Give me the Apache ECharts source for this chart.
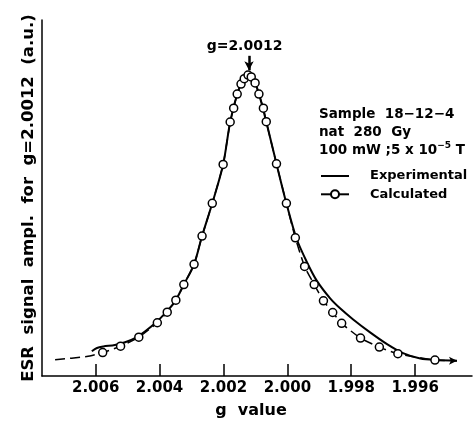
<!DOCTYPE html>
<html>
<head>
<meta charset="utf-8">
<script src="https://cdn.jsdelivr.net/npm/echarts@6/dist/echarts.min.js"></script>
<style>
html,body{margin:0;padding:0;background:#fff}
#main{width:475px;height:424px}
</style>
</head>
<body>
<div id="main"></div>
<script>
// g axis tick labels
var tickValues = [2.006, 2.004, 2.002, 2.000, 1.998, 1.996];

// experimental curve (solid)
var expG = [2.00612, 2.00596, 2.00576, 2.00540, 2.00508, 2.00477, 2.00446, 2.00414, 2.00383, 2.00352,
            2.00324, 2.00292, 2.00267, 2.00235, 2.00201, 2.00179, 2.00157, 2.00135, 2.00123, 2.00113,
            2.00101, 2.00089, 2.00066, 2.00034, 2.00003, 1.99971, 1.99939, 1.99908, 1.99866, 1.99835,
            1.99794, 1.99741, 1.99688, 1.99638, 1.99584, 1.99532, 1.99469];
var expAmp = [8.2, 9.3, 9.8, 10.3, 11.2, 12.6, 14.8, 17.5, 20.8, 24.7,
              30.4, 37.1, 46.5, 57.4, 70.3, 84.4, 93.7, 99.5, 100.4, 100.0,
              97.5, 93.8, 84.5, 70.5, 57.4, 45.6, 37.9, 31.7, 25.8, 22.5,
              18.8, 14.5, 10.6, 7.6, 5.8, 5.3, 5.1];

// calculated points (circles), first two and last are dashed tail only
var calcG = [2.00727, 2.00628,
             2.00578, 2.00522, 2.00465, 2.00407, 2.00376, 2.00349, 2.00324, 2.00292, 2.00267, 2.00235,
             2.00201, 2.00179, 2.00168, 2.00157, 2.00145, 2.00135, 2.00123, 2.00113, 2.00101, 2.00089,
             2.00075, 2.00066, 2.00034, 2.00003, 1.99975, 1.99946, 1.99916, 1.99887, 1.99858, 1.99830,
             1.99771, 1.99712, 1.99654, 1.99538,
             1.99469];
var calcAmp = [5.4, 6.5,
               7.8, 9.9, 12.9, 17.7, 21.2, 25.2, 30.4, 37.1, 46.5, 57.4,
               70.3, 84.4, 89.0, 93.7, 97.0, 98.8, 100.0, 99.4, 97.4, 93.7,
               89.0, 84.5, 70.5, 57.4, 45.9, 36.4, 30.4, 25.0, 21.1, 17.5,
               12.6, 9.6, 7.4, 5.3,
               5.1];
var calcTail = [0, 1, 36];

var peakG = 2.0012;
var peakArrow = [106.4, 101.6];
var infoText = 'Sample  18\u221212\u22124\nnat  280  Gy\n100 mW ;5 x 10{sup|\u22125} T';

var font = 'DejaVu Sans';

var expData = [];
for (var i = 0; i < expG.length; i++) {
    expData.push([expG[i], expAmp[i]]);
}
var expEnd = expData[expData.length - 1];

var calcData = [];
for (var j = 0; j < calcG.length; j++) {
    if (calcTail.indexOf(j) >= 0) {
        calcData.push({value: [calcG[j], calcAmp[j]], symbol: 'none'});
    } else {
        calcData.push([calcG[j], calcAmp[j]]);
    }
}

var myChart = echarts.init(document.getElementById('main'));
var option = {
    animation: false,
    backgroundColor: '#fff',
    textStyle: {fontFamily: font, color: '#000'},
    grid: {left: 42, right: 3, top: 20, bottom: 46},
    legend: {
        orient: 'vertical',
        left: 315,
        top: 162,
        itemWidth: 28,
        itemHeight: 10,
        itemGap: 0.3,
        textStyle: {fontFamily: font, fontSize: 13, fontWeight: 'bold', color: '#000', lineHeight: 18, padding: [0, 0, 0, 16]},
        data: [
            {name: 'Experimental', itemStyle: {color: 'rgba(0,0,0,0)', borderColor: 'rgba(0,0,0,0)', borderWidth: 0, opacity: 0}},
            {name: 'Calculated', lineStyle: {type: 'solid'}}
        ]
    },
    graphic: [{
        type: 'text',
        left: 319,
        top: 106,
        style: {
            text: infoText,
            fontFamily: font,
            fontSize: 13.5,
            fontWeight: 'bold',
            lineHeight: 17.8,
            fill: '#000',
            rich: {
                sup: {fontFamily: font, fontSize: 9, fontWeight: 'bold', verticalAlign: 'top', lineHeight: 11}
            }
        }
    }],
    xAxis: {
        type: 'value',
        inverse: true,
        min: 1.99422,
        max: 2.00768,
        name: 'g  value',
        nameLocation: 'middle',
        nameGap: 27,
        nameTextStyle: {fontFamily: font, fontSize: 16, fontWeight: 'bold', color: '#000', padding: [0, 12, 0, 0]},
        axisLine: {lineStyle: {color: '#000', width: 1.5}},
        axisTick: {inside: true, length: 12, customValues: tickValues, lineStyle: {color: '#000', width: 1.5}},
        axisLabel: {
            customValues: tickValues,
            margin: 5,
            fontFamily: font, fontSize: 15, fontWeight: 'bold', color: '#000',
            formatter: function (v) { return v.toFixed(3); }
        },
        splitLine: {show: false}
    },
    yAxis: {
        type: 'value',
        min: 0,
        max: 118.3,
        name: 'ESR  signal  ampl.  for  g=2.0012  (a.u.)',
        nameLocation: 'middle',
        nameGap: 5,
        nameTextStyle: {fontFamily: font, fontSize: 16.5, fontWeight: 'bold', color: '#000'},
        axisLine: {show: true, lineStyle: {color: '#000', width: 1.5}},
        axisTick: {show: false},
        axisLabel: {show: false},
        splitLine: {show: false}
    },
    series: [{
        name: 'Experimental',
        type: 'line',
        data: expData,
        symbol: 'none',
        smooth: 0.3,
        z: 3,
        lineStyle: {color: '#000', width: 2},
        itemStyle: {color: '#000'},
        markPoint: {
            silent: true,
            symbol: 'arrow',
            symbolSize: [6, 8],
            symbolRotate: -90,
            itemStyle: {color: '#000'},
            label: {show: false},
            data: [{coord: expEnd}]
        },
        markLine: {
            silent: true,
            symbol: ['none', 'arrow'],
            symbolSize: [7, 9],
            lineStyle: {color: '#000', width: 2.5, type: 'solid'},
            label: {
                show: true, position: 'start', distance: 2,
                formatter: 'g=2.0012',
                padding: [0, 9, 0, 0],
                fontFamily: font, fontSize: 14, fontWeight: 'bold', color: '#000'
            },
            data: [[{coord: [peakG, peakArrow[0]]}, {coord: [peakG, peakArrow[1]]}]]
        }
    }, {
        name: 'Calculated',
        type: 'line',
        data: calcData,
        symbol: 'circle',
        symbolSize: 8,
        smooth: 0.2,
        z: 4,
        lineStyle: {color: '#000', width: 1.5, type: [10, 5]},
        itemStyle: {color: '#fff', borderColor: '#000', borderWidth: 1.5}
    }]
};
myChart.setOption(option);
</script>
</body>
</html>
